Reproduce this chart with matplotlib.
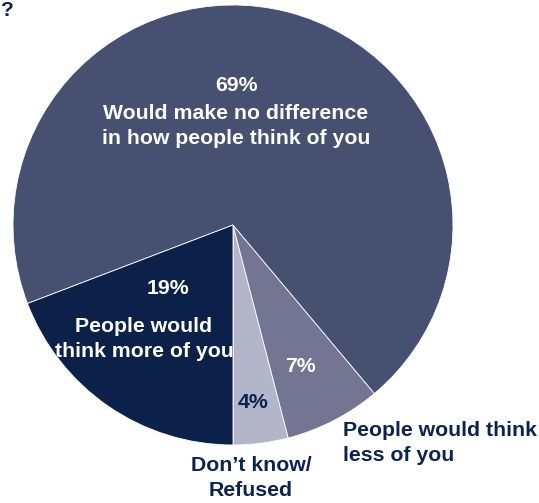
import matplotlib
matplotlib.use("Agg")
import matplotlib.pyplot as plt

# slices, counterclockwise starting from straight down
labels = ["Don’t know/\nRefused", "People would think\nless of you",
          "Would make no difference\nin how people think of you",
          "People would\nthink more of you"]
shares = [4, 7, 69, 19]
colors = ["#b3b5c9", "#737592", "#465070", "#0c2149"]

navy = "#0b2350"
W, H = 539, 503


def main():
    plt.rcParams["font.family"] = ["Liberation Sans", "DejaVu Sans"]
    fig = plt.figure(figsize=(W / 100, H / 100), dpi=100)
    ax = fig.add_axes([0, 0, 1, 1])

    ax.pie(shares, colors=colors, startangle=-90, counterclock=True,
           center=(233, H - 225), radius=220,
           wedgeprops=dict(linewidth=0.6, edgecolor="white"))
    ax.set_xlim(0, W)
    ax.set_ylim(0, H)
    ax.set_aspect("equal")
    ax.axis("off")

    fs = 15.3
    kw = dict(fontsize=fs, fontweight="bold", linespacing=1.38)

    def txt(x, y, s, color="white", ha="center", **extra):
        ax.text(x, H - y, s, color=color, ha=ha, va="center", **kw, **extra)

    txt(0, 10, "?", color=navy, ha="left")
    txt(236, 85, f"{shares[2]}%")
    txt(236, 126, labels[2])
    txt(168, 289, f"{shares[3]}%")
    txt(144, 339, labels[3])
    txt(300, 367, f"{shares[1]}%")
    txt(253, 402, f"{shares[0]}%", color=navy)
    txt(343, 443, labels[1], color=navy, ha="left")
    txt(251, 478, labels[0], color=navy)

    fig.savefig("out.png", dpi=100)


if __name__ == "__main__":
    main()
